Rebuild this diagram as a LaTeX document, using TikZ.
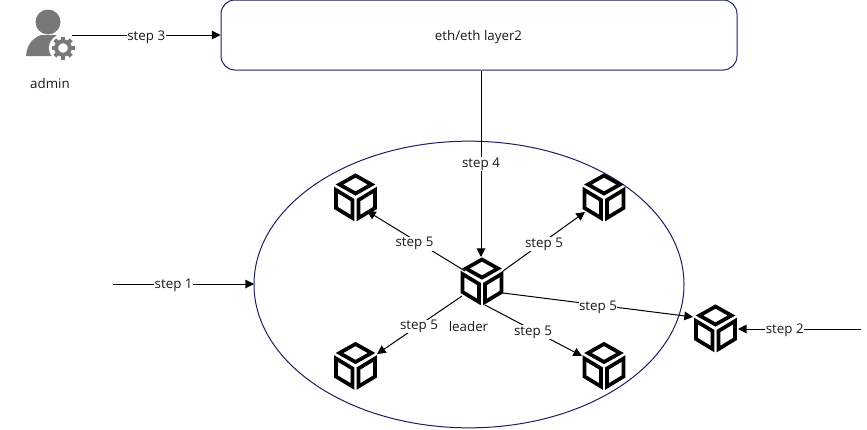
\documentclass[tikz,border=0pt]{standalone}
\usepackage{fontspec}
\setmainfont{Open Sans}
\usetikzlibrary{arrows.meta,shapes.geometric}
\definecolor{navy}{HTML}{1A2060}
\definecolor{icongray}{HTML}{787878}
\newcommand{\cubeicon}[1]{%
  \begin{scope}[shift={(#1.center)},cubeline]
    \draw (0,-21.5) -- (16,-12.5) -- (0,-3.5) -- (-16,-12.5) -- cycle;
    \draw (-19.5,-7) -- (-3,3) -- (-3,21) -- (-19.5,11) -- cycle;
    \draw (19.5,-7) -- (3,3) -- (3,21) -- (19.5,11) -- cycle;
  \end{scope}}
\tikzset{
  x=0.75pt,y=-0.75pt,
  every node/.style={font=\fontsize{10}{12}\selectfont,text=black!90},
  cubeline/.style={draw=black,line width=2.8pt,miter limit=10},
  cubenode/.style={inner sep=0pt,minimum width=34.5pt,minimum height=36pt},
  conn/.style={draw=black,line width=0.75pt,-{Triangle[length=6.5pt,width=6.5pt]}},
  lbl/.style={fill=white,inner sep=0.4pt},
  border/.style={draw=navy,line width=0.75pt}
}
\begin{document}
\begin{tikzpicture}
\useasboundingbox (0,0) rectangle (867,429);
\node[border,rounded corners=10.5pt,minimum width=387pt,minimum height=52.5pt,inner sep=0pt] (layer) at (479,35) {};
\node (layertext) at (478.5,37) {eth/eth layer2};
\node[border,ellipse,minimum width=322.5pt,minimum height=215pt,inner sep=0pt] (group) at (469,284.5) {};
% admin icon
\coordinate (admin) at (72,35);
\fill[icongray] (48,22) circle (12.5);
\fill[icongray] (26,56) .. controls (27,44) and (33,38) .. (41,35) -- (55,35) .. controls (63,38) and (68,43) .. (71,50) -- (71,56) -- cycle;
\fill[white] (63,48) circle (14);
\draw[icongray,line width=3pt] (63,48) circle (6.8);
\foreach \a in {0,45,...,315} \draw[icongray,line width=3pt] (63,48) ++(\a:8) -- ++(\a:3.5);
\node (adminlabel) at (50,83) {admin};
% cubes
\node[cubenode] (leader) at (482,281) {};
\node[cubenode] (tl) at (355.5,197) {};
\node[cubenode] (tr) at (604,197) {};
\node[cubenode] (bl) at (355.5,365.5) {};
\node[cubenode] (br) at (604,365.5) {};
\node[cubenode] (rc) at (715.5,328) {};
\foreach \n in {leader,tl,tr,bl,br,rc} {\cubeicon{\n}}
\node (leaderlabel) at (468.5,326) {leader};
\coordinate (s1) at (113,284);
\coordinate (s1e) at (254,284);
\coordinate (s2) at (861,329);
% connectors
\draw[conn] (admin) -- node[lbl,pos=0.5,yshift=-1.8pt] {step 3} (layer.west |- admin);
\draw[conn] ([shift={(2,0)}]layer.south) -- node[lbl,pos=0.49,yshift=-1.5pt] {step 4} ([shift={(-1,-24)}]leader.center);
\draw[conn] (s1) -- node[lbl,pos=0.43,yshift=-1.2pt] {step 1} (s1e);
\draw[conn] (s2) -- node[lbl,pos=0.62,yshift=-1.2pt] {step 2} ([shift={(22.5,1)}]rc.center);
\draw[conn] ([shift={(-17,-10)}]leader.center) -- node[lbl,pos=0.515,yshift=-2.7pt] {step 5} ([shift={(11.5,14)}]tl.center);
\draw[conn] ([shift={(21,-10)}]leader.center) -- node[lbl,pos=0.5,yshift=-1.8pt] {step 5} ([shift={(-19,15)}]tr.center);
\draw[conn] ([shift={(-20,15)}]leader.center) -- node[lbl,pos=0.506,yshift=-0.8pt] {step 5} ([shift={(21.5,-11.5)}]bl.center);
\draw[conn] ([shift={(3,24)}]leader.center) -- node[lbl,pos=0.495,yshift=-1.3pt] {step 5} ([shift={(-22,-9.5)}]br.center);
\draw[conn] ([shift={(21,12)}]leader.center) -- node[lbl,pos=0.5,yshift=-2pt] {step 5} ([shift={(-22.5,-11)}]rc.center);
\end{tikzpicture}
\end{document}
